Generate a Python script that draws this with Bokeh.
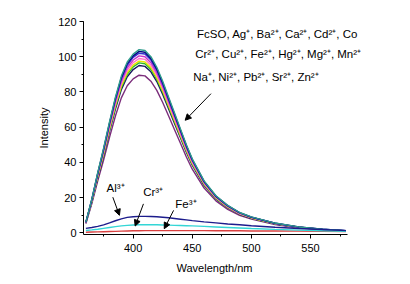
from bokeh.plotting import figure
from bokeh.models import Range1d, SingleIntervalTicker, Label, Arrow, NormalHead, Title
from bokeh.embed import file_html
from bokeh.resources import INLINE

wavelength = [360, 365, 370, 375, 380, 385, 390, 395, 400, 405, 410, 415, 420, 425,
              430, 435, 440, 445, 450, 460, 470, 480, 490, 500, 520, 540, 560, 580]

s_teal = [6, 19, 34, 48, 63, 77, 89, 97, 101.5, 104, 103.5, 100, 94, 86, 77, 68, 59, 50, 42,
          29.5, 21, 15.5, 11.5, 9, 5.5, 3.3, 2, 1.1]
s_navy = [5.9, 18.8, 33.7, 47.5, 62.4, 76.3, 88.1, 96.1, 100.5, 103, 102.5, 99, 93.1, 85.2,
          76.3, 67.3, 58.4, 49.5, 41.6, 29.2, 20.8, 15.4, 11.4, 8.9, 5.4, 3.3, 2, 1.1]
s_blue = [5.9, 18.6, 33.3, 47.1, 61.8, 75.5, 87.3, 95.1, 99.6, 102, 101.5, 98.1, 92.2, 84.3,
          75.5, 66.7, 57.9, 49, 41.2, 28.9, 20.6, 15.2, 11.3, 8.8, 5.4, 3.2, 2, 1.1]
s_magenta = [5.8, 18.4, 32.9, 46.4, 60.9, 74.4, 86, 93.7, 98.1, 100.5, 100, 96.6, 90.8, 83.1,
             74.4, 65.7, 57, 48.3, 40.6, 28.5, 20.3, 15, 11.1, 8.7, 5.3, 3.2, 1.9, 1.1]
s_pink = [5.7, 18.1, 32.4, 45.7, 60, 73.3, 84.7, 92.3, 96.6, 99, 98.5, 95.2, 89.5, 81.9,
          73.3, 64.7, 56.2, 47.6, 40, 28.1, 20, 14.8, 10.9, 8.6, 5.2, 3.1, 1.9, 1]
s_yellow = [5.6, 17.8, 31.9, 45, 59.1, 72.2, 83.4, 90.9, 95.2, 97.5, 97, 93.8, 88.1, 80.6,
            72.2, 63.8, 55.3, 46.9, 39.4, 27.7, 19.7, 14.5, 10.8, 8.4, 5.2, 3.1, 1.9, 1]
s_green = [5.6, 17.6, 31.5, 44.5, 58.5, 71.4, 82.6, 90, 94.2, 96.5, 96, 92.8, 87.2, 79.8,
           71.4, 63.1, 54.7, 46.4, 39, 27.4, 19.5, 14.4, 10.7, 8.4, 5.1, 3.1, 1.9, 1]
s_dark = [5.5, 17.4, 31.1, 43.8, 57.6, 70.3, 81.3, 88.6, 92.7, 95, 94.5, 91.4, 85.9, 78.6,
          70.3, 62.1, 53.9, 45.7, 38.4, 26.9, 19.2, 14.2, 10.5, 8.2, 5, 3, 1.8, 1]
s_purple = [5.2, 16.4, 29.3, 41.3, 54.2, 66.3, 76.6, 83.5, 87.4, 89.5, 89.1, 86.1, 80.9, 74,
            66.3, 58.5, 50.8, 43, 36.1, 25.4, 18.1, 13.3, 9.9, 7.7, 4.7, 2.8, 1.7, 0.9]

s_al = [2.5, 3, 3.6, 4.5, 5.6, 6.8, 7.9, 8.7, 9.1, 9.3, 9.3, 9.2, 9.1, 8.8, 8.5, 8.1, 7.7, 7.3,
        6.9, 6.2, 5.6, 5.0, 4.5, 4.0, 3.1, 2.4, 1.8, 1.2]
s_cr = [1.3, 1.6, 2, 2.5, 3, 3.5, 3.9, 4.2, 4.4, 4.5, 4.5, 4.5, 4.5, 4.4, 4.3, 4.2, 4.1, 4,
        3.9, 3.6, 3.3, 3, 2.7, 2.4, 1.9, 1.5, 1.1, 0.8]
s_fe = [0.3, 0.4, 0.5, 0.6, 0.7, 0.8, 0.9, 1, 1.1, 1.1, 1.2, 1.2, 1.2, 1.2, 1.2, 1.2, 1.2, 1.2,
        1.2, 1.2, 1.1, 1.1, 1.1, 1, 1, 0.9, 0.8, 0.7]

group_series = [s_purple, s_dark, s_green, s_yellow, s_pink, s_magenta, s_blue, s_navy, s_teal]
group_colors = ["#7b2d7b", "#1a1a5e", "#2eb82e", "#e6e600", "#ff77c8", "#cc33cc", "#3333cc",
                "#000080", "#2f9c8c"]

main_lines = ["FcSO, Ag\u207a, Ba\u00b2\u207a, Ca\u00b2\u207a, Cd\u00b2\u207a, Co",
              "Cr\u00b2\u207a, Cu\u00b2\u207a, Fe\u00b2\u207a, Hg\u00b2\u207a, Mg\u00b2\u207a, Mn\u00b2\u207a",
              "Na\u207a, Ni\u00b2\u207a, Pb\u00b2\u207a, Sr\u00b2\u207a, Zn\u00b2\u207a"]
label_al = "Al\u00b3\u207a"
label_cr = "Cr\u00b3\u207a"
label_fe = "Fe\u00b3\u207a"
x_title = "Wavelength/nm"
y_title = "Intensity"

FONT = "Liberation Sans"

p = figure(width=410, height=284, output_backend="svg", toolbar_location=None,
           x_range=Range1d(358, 596.5), y_range=Range1d(-1, 120),
           min_border_left=83, min_border_right=45, min_border_top=21, min_border_bottom=50)
p.outline_line_color = None
p.xgrid.visible = False
p.ygrid.visible = False
p.background_fill_color = "white"
p.border_fill_color = "white"

for s, c in zip(group_series, group_colors):
    p.line(wavelength, s, line_color=c, line_width=1.4)

p.line(wavelength, s_fe, line_color="#d94040", line_width=1.4)
p.line(wavelength, s_cr, line_color="#33d6d6", line_width=1.4)
p.line(wavelength, s_al, line_color="#1c1c8c", line_width=1.4)

for ax in (p.xaxis[0], p.yaxis[0]):
    ax.axis_line_color = "black"
    ax.major_tick_line_color = "black"
    ax.minor_tick_line_color = "black"
    ax.major_tick_in = 0
    ax.major_tick_out = 4
    ax.minor_tick_in = 0
    ax.minor_tick_out = 2
    ax.major_label_text_font = FONT
    ax.major_label_text_font_size = "11px"
    ax.major_label_text_color = "black"
    ax.axis_label_text_font = FONT
    ax.axis_label_text_font_size = "11px"
    ax.axis_label_text_font_style = "normal"
    ax.axis_label_text_color = "black"

p.xaxis[0].ticker = SingleIntervalTicker(interval=50, num_minor_ticks=2)
p.yaxis[0].ticker = SingleIntervalTicker(interval=20, num_minor_ticks=2)
p.xaxis[0].bounds = (358, 581)
p.yaxis[0].axis_label = y_title
p.xaxis[0].major_label_standoff = 5
p.yaxis[0].major_label_standoff = 3
p.yaxis[0].axis_label_standoff = 5

p.add_layout(Title(text=x_title, align="left", offset=93, text_font=FONT,
                   text_font_size="11px", text_font_style="normal", text_color="black",
                   standoff=10), "below")

for txt, x, y in zip(main_lines, [454, 452.5, 450.8], [113, 101.8, 88.2]):
    p.add_layout(Label(x=x, y=y, text=txt, text_font=FONT, text_font_size="11.5px",
                       text_baseline="middle", text_align="left", text_color="black"))

for txt, x, y in zip([label_al, label_cr, label_fe], [377.5, 408.5, 435.6], [25.3, 23, 16.4]):
    p.add_layout(Label(x=x, y=y, text=txt, text_font=FONT, text_font_size="11.5px",
                       text_baseline="middle", text_align="left", text_color="black"))

arrows = [(465.8, 79, 444, 63.9), (382.8, 20.2, 388.4, 9.9),
          (408.7, 16.4, 401.7, 3.8), (434.2, 12.7, 426.3, 2.3)]
for xs, ys, xe, ye in arrows:
    p.add_layout(Arrow(x_start=xs, y_start=ys, x_end=xe, y_end=ye, line_color="black", line_width=1,
                       end=NormalHead(size=6, fill_color="black", line_color="black")))

open("out.html", "w").write(file_html(p, INLINE))
